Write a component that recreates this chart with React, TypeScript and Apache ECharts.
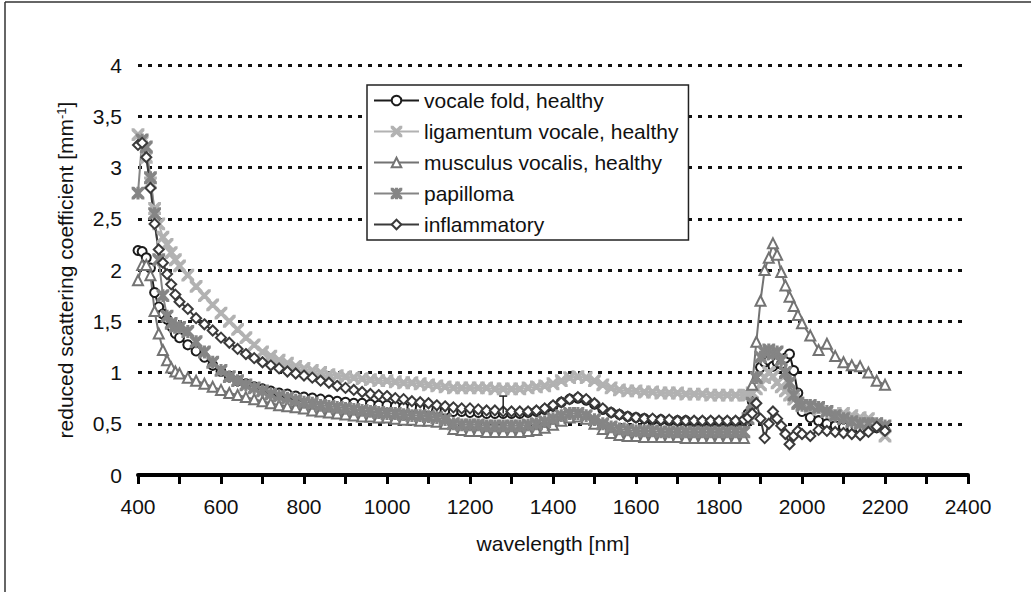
import React, { useEffect, useRef } from "react";
import * as echarts from "echarts";

const wavelengths = [
  400, 410, 420, 430, 440, 450, 460, 470, 480, 490,
  500, 520, 540, 560, 580, 600, 620, 640, 660, 680,
  700, 720, 740, 760, 780, 800, 820, 840, 860, 880,
  900, 920, 940, 960, 980, 1000, 1020, 1040, 1060, 1080,
  1100, 1120, 1140, 1160, 1180, 1200, 1220, 1240, 1260, 1280,
  1300, 1320, 1340, 1360, 1380, 1400, 1420, 1440, 1460, 1480,
  1500, 1520, 1540, 1560, 1580, 1600, 1620, 1640, 1660, 1680,
  1700, 1720, 1740, 1760, 1780, 1800, 1820, 1840, 1860,
  1870, 1880, 1890, 1900, 1910, 1920, 1930, 1940, 1950,
  1960, 1970, 1980, 1990, 2000, 2020, 2040, 2060, 2080, 2100, 2120, 2140, 2160, 2180, 2200,
];

const vocaleFold = [
  2.19, 2.18, 2.12, 2.02, 1.78, 1.64, 1.57, 1.52, 1.45, 1.38,
  1.34, 1.27, 1.21, 1.15, 1.07, 1.01, 0.96, 0.92, 0.89, 0.86,
  0.84, 0.82, 0.80, 0.79, 0.77, 0.76, 0.75, 0.74, 0.73, 0.72,
  0.71, 0.70, 0.70, 0.69, 0.68, 0.68, 0.67, 0.66, 0.66, 0.65,
  0.65, 0.64, 0.63, 0.62, 0.62, 0.61, 0.61, 0.60, 0.60, 0.60,
  0.60, 0.60, 0.61, 0.62, 0.64, 0.67, 0.71, 0.74, 0.75, 0.73,
  0.69, 0.64, 0.61, 0.59, 0.57, 0.56, 0.55, 0.54, 0.54, 0.53,
  0.53, 0.53, 0.52, 0.52, 0.52, 0.52, 0.52, 0.52, 0.53,
  0.60, 0.72, 0.90, 1.05, 1.10, 1.12, 1.06, 1.10, 1.08,
  1.14, 1.18, 1.02, 0.80, 0.62, 0.56, 0.53, 0.50, 0.48, 0.47, 0.46, 0.45, 0.45, 0.46, 0.44,
];

const ligamentumVocale = [
  3.32, 3.25, 3.10, 2.85, 2.60, 2.45, 2.32, 2.25, 2.17, 2.10,
  2.04, 1.95, 1.84, 1.75, 1.66, 1.58, 1.50, 1.42, 1.34, 1.27,
  1.20, 1.16, 1.12, 1.09, 1.06, 1.04, 1.02, 1.00, 0.98, 0.97,
  0.96, 0.95, 0.94, 0.93, 0.92, 0.92, 0.91, 0.90, 0.90, 0.89,
  0.88, 0.87, 0.86, 0.85, 0.85, 0.85, 0.85, 0.85, 0.84, 0.84,
  0.84, 0.84, 0.85, 0.86, 0.87, 0.89, 0.92, 0.95, 0.96, 0.95,
  0.92, 0.88, 0.85, 0.83, 0.82, 0.82, 0.81, 0.81, 0.80, 0.80,
  0.80, 0.79, 0.79, 0.79, 0.78, 0.78, 0.78, 0.78, 0.78,
  0.78, 0.80, 0.84, 0.88, 0.95, 1.00, 0.96, 0.90, 0.86,
  0.82, 0.78, 0.74, 0.70, 0.68, 0.66, 0.64, 0.62, 0.60, 0.60, 0.58, 0.56, 0.55, 0.50, 0.38,
];

const musculusVocalis = [
  1.90, 2.05, 2.05, 1.95, 1.60, 1.38, 1.22, 1.12, 1.05, 1.01,
  0.99, 0.95, 0.92, 0.89, 0.86, 0.83, 0.80, 0.78, 0.76, 0.74,
  0.72, 0.70, 0.68, 0.67, 0.66, 0.65, 0.63, 0.62, 0.61, 0.60,
  0.59, 0.58, 0.57, 0.57, 0.56, 0.56, 0.55, 0.54, 0.54, 0.53,
  0.53, 0.52, 0.50, 0.45, 0.44, 0.43, 0.43, 0.42, 0.42, 0.42,
  0.42, 0.42, 0.43, 0.44, 0.46, 0.49, 0.53, 0.56, 0.57, 0.55,
  0.50, 0.45, 0.41, 0.39, 0.38, 0.38, 0.37, 0.37, 0.37, 0.37,
  0.37, 0.36, 0.36, 0.36, 0.36, 0.36, 0.36, 0.36, 0.36,
  0.60, 0.88, 1.30, 1.70, 2.00, 2.12, 2.26, 2.15, 1.98,
  1.85, 1.74, 1.65, 1.56, 1.48, 1.36, 1.22, 1.28, 1.16, 1.10, 1.07, 1.06, 1.00, 0.92, 0.88,
];

const papilloma = [
  2.75, 3.27, 3.20, 2.90, 2.55, 2.10, 1.75, 1.55, 1.48, 1.45,
  1.44, 1.40, 1.30, 1.20, 1.10, 1.02, 0.96, 0.92, 0.88, 0.85,
  0.82, 0.79, 0.77, 0.75, 0.73, 0.71, 0.70, 0.68, 0.67, 0.66,
  0.65, 0.64, 0.63, 0.62, 0.61, 0.60, 0.60, 0.59, 0.58, 0.58,
  0.57, 0.56, 0.54, 0.50, 0.49, 0.49, 0.49, 0.48, 0.48, 0.48,
  0.48, 0.48, 0.49, 0.50, 0.52, 0.55, 0.58, 0.60, 0.60, 0.58,
  0.54, 0.50, 0.47, 0.45, 0.44, 0.43, 0.43, 0.43, 0.42, 0.42,
  0.42, 0.42, 0.42, 0.42, 0.42, 0.42, 0.42, 0.42, 0.42,
  0.55, 0.70, 0.95, 1.15, 1.20, 1.22, 1.18, 1.20, 1.12,
  1.00, 0.90, 0.78, 0.70, 0.68, 0.68, 0.66, 0.62, 0.58, 0.55, 0.52, 0.50, 0.50, 0.50, 0.48,
];

const inflammatory = [
  3.22, 3.24, 3.10, 2.80, 2.45, 2.20, 2.07, 1.96, 1.86, 1.76,
  1.69, 1.62, 1.53, 1.47, 1.41, 1.34, 1.29, 1.23, 1.18, 1.14,
  1.10, 1.07, 1.04, 1.01, 0.99, 0.97, 0.95, 0.92, 0.90, 0.87,
  0.85, 0.83, 0.81, 0.79, 0.78, 0.77, 0.75, 0.74, 0.72, 0.71,
  0.70, 0.68, 0.67, 0.66, 0.65, 0.65, 0.64, 0.63, 0.63, 0.62,
  0.62, 0.62, 0.62, 0.63, 0.65, 0.68, 0.71, 0.74, 0.76, 0.74,
  0.70, 0.65, 0.61, 0.59, 0.57, 0.56, 0.55, 0.55, 0.54, 0.54,
  0.53, 0.53, 0.53, 0.53, 0.53, 0.53, 0.53, 0.53, 0.54,
  0.56, 0.60, 0.70, 0.55, 0.36, 0.50, 0.62, 0.55, 0.48,
  0.40, 0.30, 0.38, 0.43, 0.40, 0.38, 0.44, 0.43, 0.42, 0.41, 0.40, 0.39, 0.42, 0.47, 0.43,
];

// error bar: [wavelength, low, high]
const errorBars = [[1280, 0.6, 0.77]];

const seriesNames = [
  "vocale fold, healthy",
  "ligamentum vocale, healthy",
  "musculus vocalis, healthy",
  "papilloma",
  "inflammatory",
];

const FONT = "'Liberation Sans', Arial, sans-serif";

const X_SYMBOL =
  "path://M0,0 L2.5,0 L10,7.5 L17.5,0 L20,0 L20,2.5 L12.5,10 L20,17.5 L20,20 L17.5,20 L10,12.5 L2.5,20 L0,20 L0,17.5 L7.5,10 L0,2.5 Z";
const STAR_SYMBOL =
  "path://M0,0 L2.5,0 L10,7.5 L17.5,0 L20,0 L20,2.5 L12.5,10 L20,17.5 L20,20 L17.5,20 L10,12.5 L2.5,20 L0,20 L0,17.5 L7.5,10 L0,2.5 Z M8.8,0 L11.2,0 L11.2,20 L8.8,20 Z";

export default function App() {
  const ref = useRef<HTMLDivElement>(null);

  useEffect(() => {
    if (!ref.current) return;
    const chart = echarts.init(ref.current, undefined, { renderer: "svg" });

    const mk = (vals: number[]) => wavelengths.map((w, i) => [w, vals[i]]);

    const styles = [
      { data: vocaleFold, color: "#1c1c1c", symbol: "emptyCircle", size: 9 },
      { data: ligamentumVocale, color: "#b2b2b2", symbol: X_SYMBOL, size: 11 },
      { data: musculusVocalis, color: "#737373", symbol: "emptyTriangle", size: 10 },
      { data: papilloma, color: "#858585", symbol: STAR_SYMBOL, size: 11 },
      { data: inflammatory, color: "#3a3a3a", symbol: "emptyDiamond", size: 10 },
    ];

    const lineSeries = styles.map((s, i) => ({
      name: seriesNames[i],
      type: "line",
      data: mk(s.data),
      symbol: s.symbol,
      symbolSize: s.size,
      showAllSymbol: true,
      lineStyle: { color: s.color, width: 2 },
      itemStyle: { color: s.color, borderColor: s.color, borderWidth: 1.8 },
      emphasis: { disabled: true },
    }));

    const option = {
      animation: false,
      backgroundColor: "#ffffff",
      textStyle: { fontFamily: FONT },
      grid: { left: 138, right: 63, top: 65, bottom: 117 },
      graphic: [
        { type: "line", shape: { x1: 5, y1: 2, x2: 1031, y2: 2 }, style: { stroke: "#333", lineWidth: 1.5 } },
        { type: "line", shape: { x1: 5, y1: 2, x2: 5, y2: 592 }, style: { stroke: "#333", lineWidth: 1.5 } },
      ],
      legend: {
        data: seriesNames,
        orient: "vertical",
        left: 367,
        top: 85,
        padding: [5, 10, 5, 6],
        itemGap: 10,
        itemWidth: 45,
        itemHeight: 12,
        backgroundColor: "#ffffff",
        borderColor: "#222",
        borderWidth: 1.5,
        borderRadius: 0,
        textStyle: { fontSize: 21, color: "#111", fontFamily: FONT },
      },
      xAxis: {
        type: "value",
        min: 400,
        max: 2400,
        interval: 100,
        name: "wavelength [nm]",
        nameLocation: "middle",
        nameGap: 58,
        nameTextStyle: { fontSize: 21, color: "#111", fontFamily: FONT },
        axisLine: { show: true, lineStyle: { color: "#000", width: 4 } },
        axisTick: { show: true, inside: false, length: 9, lineStyle: { color: "#000", width: 3 } },
        axisLabel: {
          fontSize: 21,
          color: "#111",
          margin: 21,
          fontFamily: FONT,
          formatter: (v: number) => (v % 200 === 0 ? String(v) : ""),
        },
        splitLine: { show: false },
      },
      yAxis: {
        type: "value",
        min: 0,
        max: 4,
        interval: 0.5,
        name: "reduced scattering coefficient [mm{sup|-1}]",
        nameLocation: "middle",
        nameGap: 62,
        nameRotate: 90,
        nameTextStyle: {
          fontSize: 21,
          color: "#111",
          fontFamily: FONT,
          rich: {
            sup: { fontSize: 13, verticalAlign: "top", color: "#111", fontFamily: FONT },
          },
        },
        axisLine: { show: false },
        axisTick: { show: false },
        axisLabel: {
          fontSize: 21,
          color: "#111",
          margin: 16,
          fontFamily: FONT,
          formatter: (v: number) => String(v).replace(".", ","),
        },
        splitLine: {
          show: true,
          lineStyle: { color: "#111", width: 3, type: [4, 6] },
        },
      },
      series: [
        ...lineSeries,
        {
          type: "custom",
          name: "error",
          data: errorBars,
          silent: true,
          z: 5,
          renderItem: (params: any, api: any) => {
            const low = api.coord([api.value(0), api.value(1)]);
            const high = api.coord([api.value(0), api.value(2)]);
            return {
              type: "group",
              children: [
                { type: "line", shape: { x1: low[0], y1: low[1], x2: high[0], y2: high[1] }, style: { stroke: "#222", lineWidth: 1.5 } },
                { type: "line", shape: { x1: high[0] - 4, y1: high[1], x2: high[0] + 4, y2: high[1] }, style: { stroke: "#222", lineWidth: 1.5 } },
              ],
            };
          },
        },
      ],
    };

    chart.setOption(option as any);
    return () => chart.dispose();
  }, []);

  return (
    <div
      ref={ref}
      style={{ position: "fixed", left: 0, top: 0, width: 1031, height: 592, background: "#fff" }}
    />
  );
}
